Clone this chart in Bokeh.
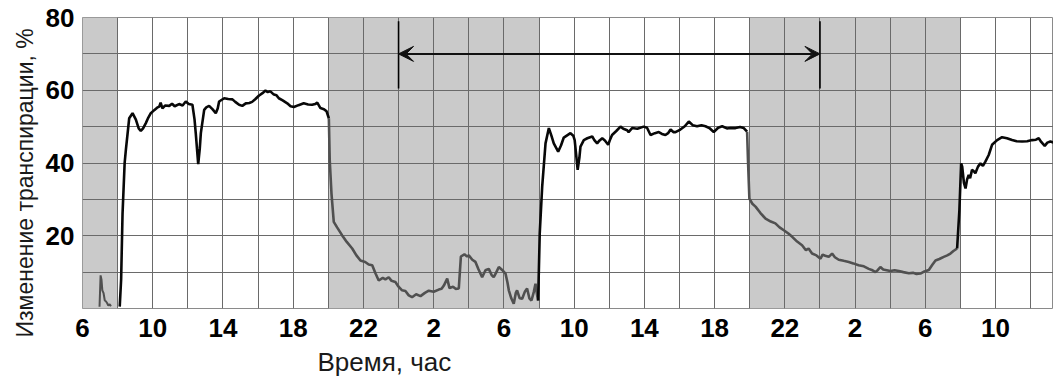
from bokeh.plotting import figure
from bokeh.models import FixedTicker, Arrow, VeeHead, Range1d, Title
from bokeh.embed import file_html
from bokeh.resources import INLINE

# ---- data (hours counted continuously from the first morning) ----
night0_t = [6.97, 7.03, 7.08, 7.13, 7.2, 7.27, 7.33, 7.4, 7.47, 7.55, 7.62]
night0_v = [0.5, 9.1, 8.0, 5.0, 4.2, 2.2, 2.0, 1.5, 0.8, 1.2, 0.6]

day1_t = [8.12, 8.2, 8.28, 8.4, 8.47, 8.66, 8.85, 9.04, 9.2, 9.32, 9.45, 9.6, 9.75, 9.89,
          10.1, 10.25, 10.37, 10.45, 10.55, 10.7, 10.94, 11.1, 11.25, 11.5, 11.7, 11.88,
          12.05, 12.26, 12.38, 12.45, 12.59, 12.68, 12.74, 12.93, 13.05, 13.21, 13.4, 13.59,
          13.7, 13.78, 14.07, 14.3, 14.54, 14.7, 14.92, 15.1, 15.3, 15.5, 15.66, 15.85,
          16.04, 16.25, 16.42, 16.55, 16.7, 16.9, 17.05, 17.18, 17.4, 17.66, 17.85, 18.04,
          18.3, 18.6, 18.85, 19.08, 19.25, 19.37, 19.55, 19.75, 19.9, 20.03]
day1_v = [0.5, 8, 26, 40, 43.6, 52.3, 53.7, 51.9, 49.5, 48.8, 49.5, 50.9, 52.5, 53.7,
          54.6, 55.2, 55.5, 56.6, 55.0, 55.8, 55.7, 56.3, 55.6, 56.2, 55.8, 56.9,
          56.2, 56.0, 52, 48.2, 39.7, 44, 48.2, 54.6, 55.3, 55.7, 54.8, 53.7,
          55, 56.9, 57.8, 57.6, 57.5, 56.8, 56.0, 55.7, 56.4, 56.5, 56.8, 57.6,
          58.5, 59.2, 59.9, 59.5, 59.7, 58.8, 58.6, 57.8, 57.2, 56.4, 55.6, 55.4,
          55.9, 56.4, 56.1, 56.0, 56.2, 56.6, 55.1, 54.8, 54.2, 52.3]

night1_t = [20.03, 20.08, 20.18, 20.31, 20.5, 20.79, 21.05, 21.36, 21.6, 21.83, 22.1, 22.3,
            22.5, 22.69, 22.87, 23.1, 23.25, 23.44, 23.6, 23.82, 24.0, 24.2, 24.39, 24.58,
            24.77, 25.0, 25.25, 25.5, 25.72, 26.0, 26.29, 26.45, 26.58, 26.77, 26.9, 27.1,
            27.25, 27.43, 27.55, 27.75, 27.9, 28.0, 28.2, 28.38, 28.55, 28.76, 28.95, 29.14,
            29.3, 29.42, 29.55, 29.71, 29.9, 30.09, 30.2, 30.28, 30.42, 30.56, 30.68, 30.75,
            30.9, 31.04, 31.2, 31.32, 31.45, 31.57, 31.7, 31.8, 31.88, 31.95]
night1_v = [52.3, 40.8, 31.6, 23.8, 22.3, 20.1, 18.3, 16.5, 14.6, 13.2, 12.8, 12.1,
            11.9, 9.6, 7.7, 8.4, 8.0, 8.6, 7.6, 7.3, 6.0, 5.0, 4.8, 3.6,
            3.1, 3.9, 3.4, 4.3, 4.9, 4.6, 5.2, 5.4, 6.3, 8.2, 5.6, 6.0,
            5.4, 5.5, 14.3, 14.9, 14.3, 14.6, 13.4, 12.8, 10.8, 8.6, 10.5, 10.9,
            9.2, 8.6, 9.8, 11.4, 10.6, 9.6, 7.2, 5.0, 2.8, 1.3, 4.3, 5.0,
            2.8, 2.7, 4.7, 5.5, 2.8, 2.2, 4.5, 6.8, 4.0, 2.2]

day2_t = [31.95, 32.04, 32.18, 32.37, 32.56, 32.7, 32.84, 33.09, 33.25, 33.41, 33.6, 33.79,
          33.95, 34.03, 34.12, 34.2, 34.3, 34.36, 34.55, 34.75, 35.03, 35.15, 35.31, 35.45,
          35.6, 35.75, 35.94, 36.05, 36.16, 36.4, 36.64, 36.8, 37.02, 37.1, 37.3, 37.6,
          37.96, 38.15, 38.35, 38.6, 38.82, 39.0, 39.2, 39.35, 39.49, 39.65, 39.77, 40.05,
          40.3, 40.53, 40.75, 41.0, 41.25, 41.48, 41.7, 41.95, 42.2, 42.43, 42.7, 42.9,
          43.19, 43.45, 43.66, 43.85]
day2_v = [2.2, 20.6, 33.5, 45.4, 49.6, 47.6, 45.4, 43.1, 44.8, 47.0, 47.6, 48.2,
          47.5, 46.3, 42, 38.1, 41.5, 44.5, 46.3, 46.8, 47.3, 46.3, 45.4, 46.2,
          46.8, 46.2, 45.0, 46.5, 47.7, 48.8, 50.0, 49.4, 49.0, 48.5, 49.6, 49.4,
          50.0, 49.7, 47.7, 48.2, 48.5, 48.0, 47.7, 48.2, 49.2, 48.5, 48.5, 49.2,
          50.1, 51.4, 50.4, 50.1, 50.4, 50.1, 49.6, 48.5, 49.7, 50.1, 49.5, 49.6,
          49.6, 49.9, 49.6, 48.6]

night2_t = [43.85, 43.9, 43.98, 44.15, 44.33, 44.6, 44.9, 45.2, 45.46, 45.7, 45.94, 46.2,
            46.42, 46.7, 46.98, 47.2, 47.35, 47.55, 47.8, 48.03, 48.15, 48.3, 48.5, 48.69,
            48.85, 49.07, 49.35, 49.64, 49.9, 50.2, 50.5, 50.78, 50.95, 51.16, 51.3, 51.44,
            51.6, 51.73, 52.01, 52.25, 52.49, 52.75, 53.06, 53.3, 53.5, 53.72, 53.95, 54.2,
            54.4, 54.58, 54.8, 55.05, 55.25, 55.43, 55.6, 55.81]
night2_v = [48.6, 40.8, 30.2, 28.8, 28.0, 26.3, 24.7, 23.9, 23.4, 22.3, 21.5, 20.6,
            19.7, 18.4, 17.4, 16.0, 16.5, 15.1, 14.6, 13.7, 14.8, 14.5, 14.2, 15.1,
            14.1, 13.4, 13.1, 12.8, 12.4, 11.9, 11.6, 10.9, 10.6, 10.0, 10.6, 11.4,
            10.7, 10.6, 10.3, 10.5, 10.3, 10.0, 9.7, 9.8, 9.5, 9.6, 10.2, 10.6,
            12.0, 13.2, 13.6, 14.2, 14.6, 15.1, 15.8, 16.5]

day3_t = [55.81, 55.94, 56.04, 56.1, 56.2, 56.29, 56.38, 56.47, 56.55, 56.66, 56.75, 56.85,
          57.0, 57.14, 57.28, 57.42, 57.61, 57.8, 58.09, 58.37, 58.65, 58.94, 59.2, 59.51,
          59.8, 60.08, 60.3, 60.46, 60.6, 60.8, 60.95, 61.12, 61.3]
day3_v = [16.5, 27, 39.9, 39.0, 34.5, 33.0, 35.5, 36.7, 35.8, 38.1, 37.8, 37.2,
          39.0, 39.9, 39.2, 40.4, 42.2, 45.0, 46.3, 47.1, 46.8, 46.3, 46.0, 45.9,
          46.0, 46.3, 46.4, 46.8, 45.8, 44.7, 45.6, 45.9, 45.6]

dark_start = [6, 20, 44]
dark_end = [8, 32, 56]

x_tick_pos = [6, 10, 14, 18, 22, 26, 30, 34, 38, 42, 46, 50, 54, 58]
x_tick_lab = ["6", "10", "14", "18", "22", "2", "6", "10", "14", "18", "22", "2", "6", "10"]
x_grid = list(range(6, 62, 2))
y_tick_pos = [20, 40, 60, 80]
y_grid = [0, 10, 20, 30, 40, 50, 60, 70, 80]

arrow_from = 24
arrow_to = 48
arrow_level = 70
bar_low = 60.5
bar_high = 79

x_title = "Время, час"
y_title = "Изменение транспирации, %"

FONT = "Liberation Sans"

p = figure(width=1053, height=383, x_range=Range1d(6, 61.3), y_range=Range1d(0, 80),
           output_backend="svg", toolbar_location=None,
           min_border_left=82, min_border_right=0, min_border_top=17, min_border_bottom=75)
p.background_fill_color = "white"
p.border_fill_color = "white"
p.outline_line_color = "#8a8a8a"
p.outline_line_width = 1

# night shading
p.quad(left=dark_start, right=dark_end, bottom=0, top=80,
       fill_color="#cacaca", line_color=None, level="image")

# grid
p.xgrid.ticker = FixedTicker(ticks=x_grid)
p.ygrid.ticker = FixedTicker(ticks=y_grid)
for g in (p.xgrid, p.ygrid):
    g.grid_line_color = "#6a6a6a"
    g.grid_line_width = 1
    g.grid_line_alpha = 1

# axes
p.xaxis.ticker = FixedTicker(ticks=x_tick_pos)
p.xaxis.major_label_overrides = {t: s for t, s in zip(x_tick_pos, x_tick_lab)}
p.yaxis.ticker = FixedTicker(ticks=y_tick_pos)
for ax in (p.xaxis, p.yaxis):
    ax.axis_line_color = None
    ax.major_tick_line_color = None
    ax.minor_tick_line_color = None
    ax.major_tick_out = 0
    ax.major_tick_in = 0
    ax.major_label_text_font = FONT
    ax.major_label_text_font_style = "bold"
    ax.major_label_text_font_size = "26px"
    ax.major_label_text_color = "black"
p.xaxis.major_label_standoff = 10
p.yaxis.major_label_standoff = 8

# data lines
night_col = "#505050"
day_col = "#080808"
lw = 2.6
p.line(night0_t, night0_v, line_color=night_col, line_width=2)
p.line(day1_t, day1_v, line_color=day_col, line_width=lw)
p.line(night1_t, night1_v, line_color=night_col, line_width=lw)
p.line(day2_t, day2_v, line_color=day_col, line_width=lw)
p.line(night2_t, night2_v, line_color=night_col, line_width=lw)
p.line(day3_t, day3_v, line_color=day_col, line_width=lw)

# double arrow with end bars
p.segment(x0=[arrow_from, arrow_to], y0=[bar_low, bar_low],
          x1=[arrow_from, arrow_to], y1=[bar_high, bar_high],
          line_color="black", line_width=1.6)
p.add_layout(Arrow(x_start=arrow_from, x_end=arrow_to, y_start=arrow_level, y_end=arrow_level,
                   line_color="#111111", line_width=2,
                   start=VeeHead(size=15, fill_color="#111111", line_color="#111111", line_width=1),
                   end=VeeHead(size=15, fill_color="#111111", line_color="#111111", line_width=1)))

# axis titles
p.add_layout(Title(text=x_title, align="left", offset=235, text_font=FONT,
                   text_font_size="26px", text_font_style="normal", text_color="#1a1a1a",
                   standoff=10), "below")
p.add_layout(Title(text=y_title, align="left", offset=-29, text_font=FONT,
                   text_font_size="23px", text_font_style="normal", text_color="#1a1a1a"),
             "left")

open("out.html", "w").write(file_html(p, INLINE))
